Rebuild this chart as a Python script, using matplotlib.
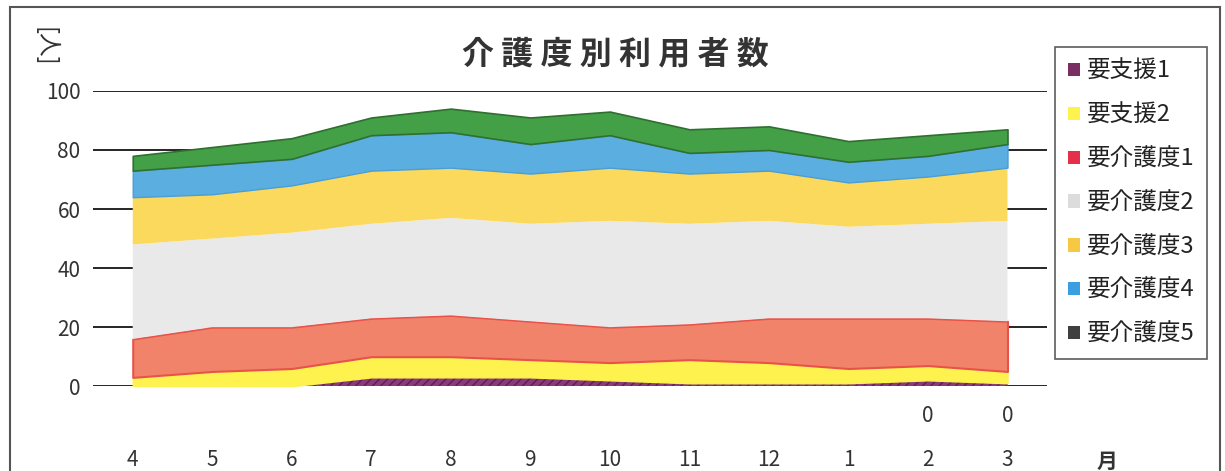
import numpy as np
import matplotlib.pyplot as plt
from matplotlib.patches import Patch, Rectangle

plt.rcParams['font.family'] = ['Noto Sans CJK JP', 'DejaVu Sans']

# months (fiscal year order)
months = ['4', '5', '6', '7', '8', '9', '10', '11', '12', '1', '2', '3']

# users per care level
shien1 = [0, 0, 0, 3, 3, 3, 2, 1, 1, 1, 2, 1]
shien2 = [3, 5, 6, 7, 7, 6, 6, 8, 7, 5, 5, 4]
kaigo1 = [13, 15, 14, 13, 14, 13, 12, 12, 15, 17, 16, 17]
kaigo2 = [32, 30, 32, 32, 33, 33, 36, 34, 33, 31, 32, 34]
kaigo3 = [16, 15, 16, 18, 17, 17, 18, 17, 17, 15, 16, 18]
kaigo4 = [9, 10, 9, 12, 12, 10, 11, 7, 7, 7, 7, 8]
kaigo5 = [5, 6, 7, 6, 8, 9, 8, 8, 8, 7, 7, 5]

labels = ['要支援1', '要支援2', '要介護度1', '要介護度2', '要介護度3', '要介護度4', '要介護度5']
fill_colors = ['#8a3a7c', '#fdf24e', '#f2836b', '#e9e9e9', '#fbd95c', '#5aaee0', '#43a047']
legend_colors = ['#7a2f63', '#fdf24e', '#e4304a', '#dcdcdc', '#f6c843', '#3a9ee0', '#3f3f3f']

fig = plt.figure(figsize=(12.25, 4.71), dpi=100)
ax = fig.add_axes([0.0759, 0.180, 0.779, 0.627])

x = np.arange(len(months))
series = [shien1, shien2, kaigo1, kaigo2, kaigo3, kaigo4, kaigo5]
polys = ax.stackplot(x, *series, colors=fill_colors, zorder=2)
polys[0].set_hatch('////')
polys[0].set_edgecolor('#5c1f50')
polys[0].set_linewidth(0)
polys[1].set_edgecolor('#fdf24e')
polys[2].set_edgecolor('#e8524a')
polys[2].set_linewidth(1.5)
polys[5].set_edgecolor('#4a9ed6')
polys[6].set_edgecolor('#2f6f30')
polys[6].set_linewidth(1.2)

ax.set_xlim(-0.5, 11.5)
ax.set_ylim(0, 100)
ax.set_yticks(range(0, 101, 20))
ax.yaxis.grid(True, color='black', linewidth=1.2, zorder=0)
ax.set_axisbelow(True)
for s in ax.spines.values():
    s.set_visible(False)
ax.tick_params(axis='y', length=0, pad=9, labelsize=15, colors='#333333')
ax.set_xticks(x)
ax.set_xticklabels(months)
ax.tick_params(axis='x', length=0, pad=45, labelsize=15, colors='#333333')

# zero labels under Feb and Mar
for i in [10, 11]:
    ax.text(x[i], -10, '0', ha='center', va='center', fontsize=15, color='#333333')

ax.text(12.25, -25.5, '月', ha='center', va='center', fontsize=15, fontweight='bold', color='#333333')
fig.text(0.037, 0.90, '[人]', rotation=-90, ha='center', va='center', fontsize=17, color='#333333')

fig.text(0.502, 0.885, '介 護 度 別 利 用 者 数', ha='center', va='center',
         fontsize=23, fontweight='bold', color='#333333')

handles = [Patch(facecolor=c, edgecolor='none') for c in legend_colors]
leg = fig.legend(handles, labels, loc='upper left', bbox_to_anchor=(0.861, 0.90),
                 fontsize=17, frameon=True, fancybox=False, edgecolor='#333333',
                 handlelength=0.5, handleheight=0.5, handletextpad=0.3,
                 labelspacing=0.88, borderpad=0.55, borderaxespad=0)
leg.get_frame().set_linewidth(1.2)
for t in leg.get_texts():
    t.set_color('#222222')

# outer chart border
fig.patches.append(Rectangle((0.008, -0.01), 0.988, 0.995, transform=fig.transFigure,
                             fill=False, edgecolor='#555555', linewidth=1.5))

fig.savefig('out.png', dpi=100)
